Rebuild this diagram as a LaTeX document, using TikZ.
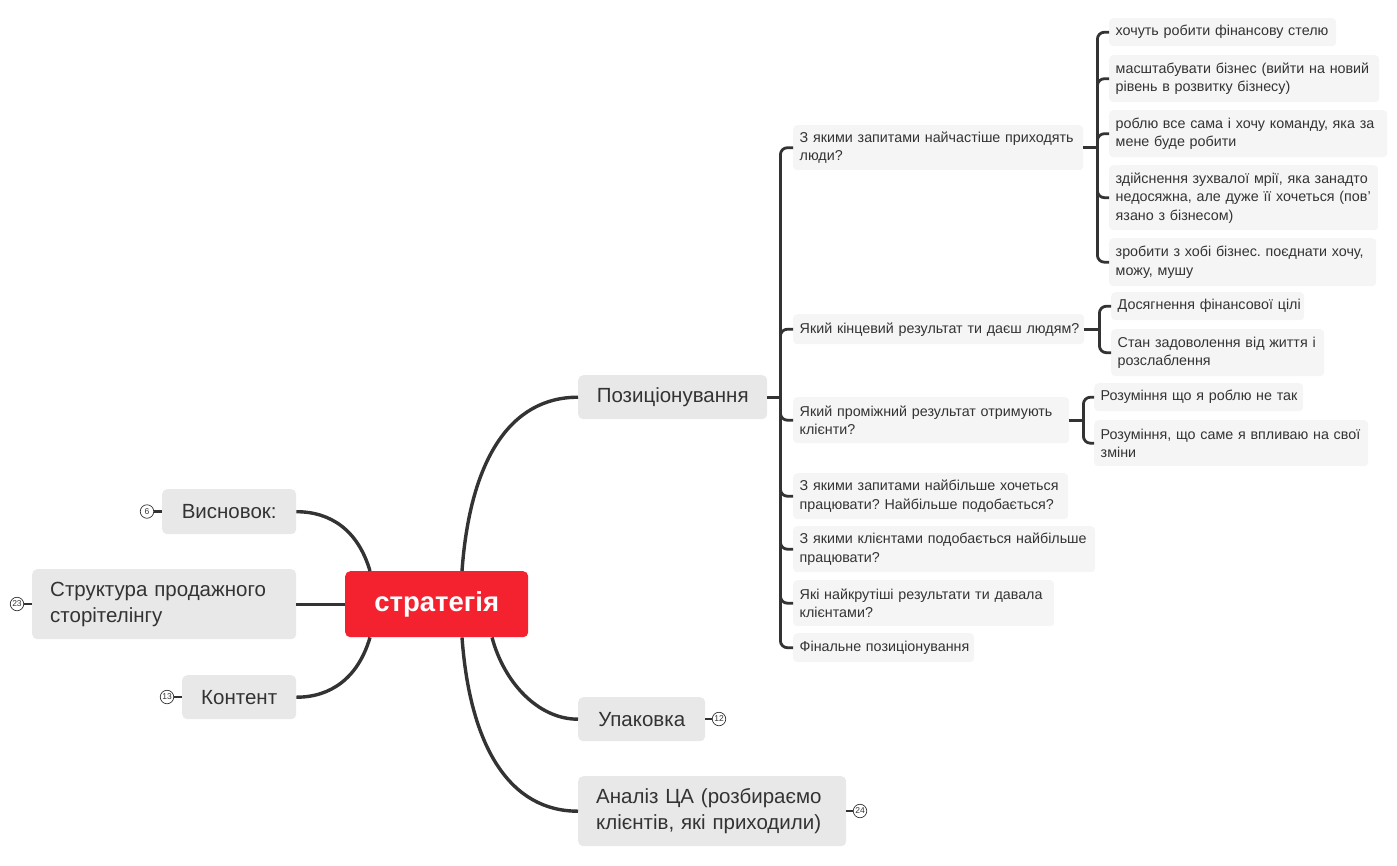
\documentclass[tikz,border=0pt]{standalone}
\usepackage{fontspec}
\setmainfont{Liberation Sans}
\usetikzlibrary{calc}
\definecolor{txt}{HTML}{333333}
\definecolor{line}{HTML}{333333}
\definecolor{mainfill}{HTML}{E8E8E8}
\definecolor{cfill}{HTML}{F5F5F5}
\definecolor{stred}{HTML}{F4212F}
\newcommand\oneln[1]{\mbox{#1}}
\frenchspacing
\begin{document}
\frenchspacing
\begin{tikzpicture}[x=1pt,y=-1pt,
  central/.style={fill=stred, rounded corners=5pt, text=white, font=\fontsize{27.5}{30}\selectfont\bfseries, anchor=north west, inner sep=0pt},
  mainbox/.style={fill=mainfill, rounded corners=5pt, text=txt, font=\fontsize{20.5}{26}\selectfont, anchor=north west, inner xsep=18pt, inner ysep=0pt},
  childbox/.style={fill=cfill, rounded corners=4pt, text=txt, font=\fontsize{14.3}{18.5}\selectfont\frenchspacing, anchor=north west, inner xsep=6.5pt, inner ysep=0pt, align=left},
  conn/.style={draw=line, line width=3.4pt},
  conn2/.style={draw=line, line width=2.8pt, rounded corners=7pt},
  mconn/.style={draw=line, line width=2.2pt},
  numc/.style={circle, draw=txt, line width=0.7pt, fill=white, minimum size=13.5pt, inner sep=0pt, font=\fontsize{8.5}{8.5}\selectfont, text=txt}
]
\useasboundingbox (0,0) rectangle (1397,865);

% central
\node[central, minimum width=183pt, minimum height=66pt] (st) at (345,571) {стратегія};

% left main
\node[mainbox, minimum width=134pt, minimum height=45pt, inner xsep=0pt] (vis) at (162,489) {Висновок:};
\node[mainbox, text width=228pt, align=left, minimum height=70pt] (str) at (32,569) {\oneln{Структура продажного}\\\oneln{сторітелінгу}};
\node[mainbox, minimum width=114pt, minimum height=44pt, inner xsep=0pt] (kon) at (182,675) {Контент};

% right main
\node[mainbox, minimum width=189pt, minimum height=44pt, inner xsep=0pt] (pos) at (578,375) {Позиціонування};
\node[mainbox, minimum width=127pt, minimum height=44pt, inner xsep=0pt] (upa) at (578,697) {Упаковка};
\node[mainbox, text width=232pt, align=left, minimum height=70pt] (ana) at (578,776) {\oneln{Аналіз ЦА (розбираємо}\\\oneln{клієнтів, які приходили)}};

% number markers
\node[numc] (n6) at (147,511.5) {6};
\node[numc] (n23) at (17,604) {23};
\node[numc] (n13) at (167,697) {13};
\node[numc] (n12) at (719,719) {12};
\node[numc] (n24) at (860,811) {24};

% children of Позиціонування
\node[childbox, text width=277pt, minimum height=45pt] (q1) at (793,125) {\oneln{З якими запитами найчастіше приходять}\\\oneln{люди?}};
\node[childbox, text width=278pt, minimum height=30pt] (q2) at (793,314) {\oneln{Який кінцевий результат ти даєш людям?}};
\node[childbox, text width=263pt, minimum height=46pt] (q3) at (793,397) {\oneln{Який проміжний результат отримують}\\\oneln{клієнти?}};
\node[childbox, text width=262pt, minimum height=46pt] (q4) at (793,473) {\oneln{З якими запитами найбільше хочеться}\\\oneln{працювати? Найбільше подобається?}};
\node[childbox, text width=289pt, minimum height=46pt] (q5) at (793,526) {\oneln{З якими клієнтами подобається найбільше}\\\oneln{працювати?}};
\node[childbox, text width=248pt, minimum height=46pt] (q6) at (793,580) {\oneln{Які найкрутіші результати ти давала}\\\oneln{клієнтами?}};
\node[childbox, text width=168pt, minimum height=29pt] (q7) at (793,633) {\oneln{Фінальне позиціонування}};

% children of q1
\node[childbox, text width=214pt, minimum height=28pt] (r1a) at (1109,18) {\oneln{хочуть робити фінансову стелю}};
\node[childbox, text width=257pt, minimum height=47pt] (r1b) at (1109,55) {\oneln{масштабувати бізнес (вийти на новий}\\\oneln{рівень в розвитку бізнесу)}};
\node[childbox, text width=265pt, minimum height=47pt] (r1c) at (1109,110) {\oneln{роблю все сама і хочу команду, яка за}\\\oneln{мене буде робити}};
\node[childbox, text width=256pt, minimum height=65pt] (r1d) at (1109,165) {\oneln{здійснення зухвалої мрії, яка занадто}\\\oneln{недосяжна, але дуже її хочеться (пов'}\\\oneln{язано з бізнесом)}};
\node[childbox, text width=254pt, minimum height=48pt] (r1e) at (1109,238) {\oneln{зробити з хобі бізнес. поєднати хочу,}\\\oneln{можу, мушу}};

% children of q2
\node[childbox, text width=180pt, minimum height=28pt] (r2a) at (1111,292) {\oneln{Досягнення фінансової цілі}};
\node[childbox, text width=200pt, minimum height=47pt] (r2b) at (1111,329) {\oneln{Стан задоволення від життя і}\\\oneln{розслаблення}};

% children of q3
\node[childbox, text width=196pt, minimum height=28pt] (r3a) at (1094,383) {\oneln{Розуміння що я роблю не так}};
\node[childbox, text width=261pt, minimum height=46pt] (r3b) at (1094,420) {\oneln{Розуміння, що саме я впливаю на свої}\\\oneln{зміни}};

% main connectors
\draw[conn] ($(st.north west)+(25,0)$) .. controls +(-12,-41) and +(34,0) .. (vis.east);
\draw[conn] (st.west) -- (str.east);
\draw[conn] ($(st.south west)+(25,0)$) .. controls +(-12,41) and +(34,0) .. (kon.east);
\draw[conn] ($(st.north west)+(117,0)$) .. controls +(8,-111) and +(-68,0) .. (pos.west);
\draw[conn] ($(st.south west)+(147,0)$) .. controls +(12,45) and +(-40,0) .. (upa.west);
\draw[conn] ($(st.south west)+(117,0)$) .. controls +(8,110) and +(-68,0) .. (ana.west);

% marker connectors
\draw[mconn] (n6.east) -- (n6.east -| vis.west);
\draw[mconn] (n23.east) -- (n23.east -| str.west);
\draw[mconn] (n13.east) -- (n13.east -| kon.west);
\draw[mconn] (upa.east) -- (upa.east -| n12.west);
\draw[mconn] (ana.east) -- (ana.east -| n24.west);

% bracket from Позиціонування
\coordinate (pj) at ($(pos.east)+(13,0)$);
\draw[conn2] (pos.east) -- (pj);
\foreach \c in {q1,q2,q3,q4,q5,q6,q7} { \draw[conn2] (pj) |- (\c.west); }

% bracket from q1
\coordinate (q1j) at ($(q1.east)+(14,0)$);
\draw[conn2] (q1.east) -- (q1j);
\foreach \c in {r1a,r1b,r1c,r1d,r1e} { \draw[conn2] (q1j) |- (\c.west); }

% bracket from q2
\coordinate (q2j) at ($(q2.east)+(15,0)$);
\draw[conn2] (q2.east) -- (q2j);
\foreach \c in {r2a,r2b} { \draw[conn2] (q2j) |- (\c.west); }

% bracket from q3
\coordinate (q3j) at ($(q3.east)+(14,0)$);
\draw[conn2] (q3.east) -- (q3j);
\foreach \c in {r3a,r3b} { \draw[conn2] (q3j) |- (\c.west); }
\end{tikzpicture}
\end{document}
